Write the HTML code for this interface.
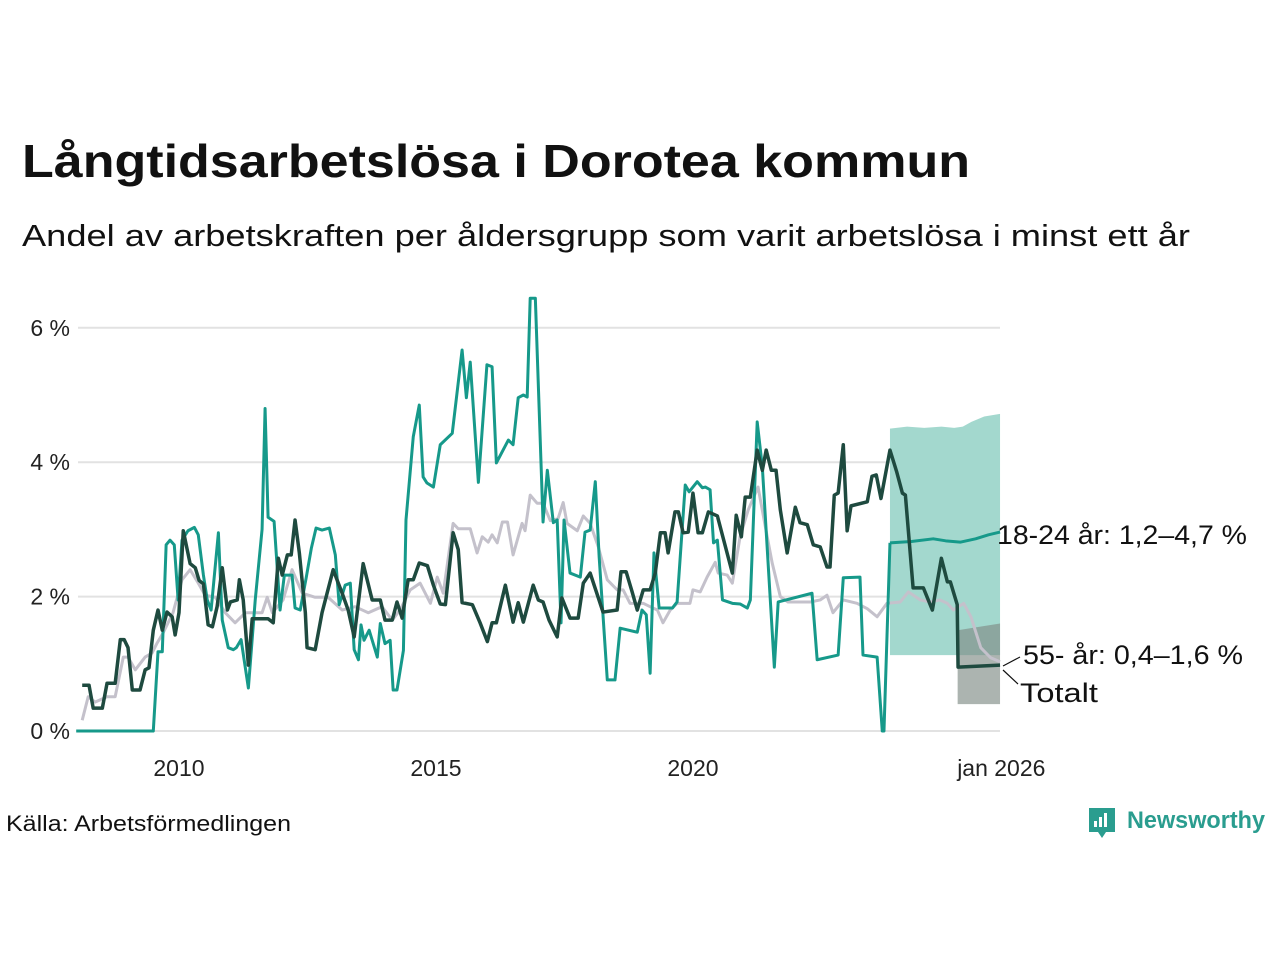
<!DOCTYPE html>
<html><head><meta charset="utf-8"><style>
html,body{margin:0;padding:0;background:#fff;}
svg{display:block;font-family:"Liberation Sans","DejaVu Sans",sans-serif;}
</style></head><body>
<svg id="chart" width="1280" height="960" viewBox="0 0 1280 960">
<text x="22" y="177" font-size="46" font-weight="bold" fill="#111" textLength="948" lengthAdjust="spacingAndGlyphs">Långtidsarbetslösa i Dorotea kommun</text>
<text x="22" y="246" font-size="31" fill="#111" textLength="1168" lengthAdjust="spacingAndGlyphs">Andel av arbetskraften per åldersgrupp som varit arbetslösa i minst ett år</text>
<g id="grid"></g><g id="bands"></g><g id="lines"></g><g id="labels"></g>
<text x="6" y="831" font-size="22" fill="#111" textLength="285" lengthAdjust="spacingAndGlyphs">Källa: Arbetsförmedlingen</text>
<g>
<path d="M1089 808 h26 v24 h-9 l-4 6 l-4 -6 h-9 z" fill="#2a9d8f"/>
<rect x="1094" y="821" width="3" height="6" fill="#fff"/><rect x="1099" y="817" width="3" height="10" fill="#fff"/><rect x="1104" y="813" width="3" height="14" fill="#fff"/>
<text x="1127" y="828" font-size="24" font-weight="bold" fill="#2a9d8f" textLength="138" lengthAdjust="spacingAndGlyphs">Newsworthy</text>
</g>
</svg>
<script>
// months since Jan 2008
const greenMonths=[0,18,19.1,20.1,21,21.9,22.9,23.8,24.7,26.1,27.6,28.5,29.7,30.6,31.5,33.2,34.1,35.5,36.7,37.4,38.5,40.2,41.8,43.4,44.1,44.8,46.2,47.6,48.6,50.4,51.1,52.3,53.7,54.9,56,57.4,59.1,60.5,61.4,62.8,64,64.9,65.9,66.5,67.2,68.4,70.3,71,72.1,73.3,74,74.9,76.4,77,78.7,80.1,81,81.9,83.4,85,87.8,90.1,91.1,92,93.9,95.9,97.1,98.1,100.9,102,103.2,104.4,105.3,106,107.2,109,110,111.4,112.3,113.2,113.9,115.3,117.7,118.8,120,121.2,122.1,124,125.8,127,131,132.1,133.1,134,134.9,136.1,139.2,140.3,142.2,143.1,145,146.2,146.9,148,148.8,149.7,150.9,153.2,155,156.7,157.4,159,160.2,163,163.9,171.8,173,177.9,179.1,183,183.7,187,188.2,188.6,190];
const greenValues=[0,0,1.18,1.18,2.77,2.84,2.77,1.95,2.84,2.98,3.03,2.92,2.32,1.95,1.8,2.95,1.65,1.24,1.21,1.24,1.36,0.64,1.95,3.0,4.8,3.18,3.12,1.8,2.32,2.32,1.83,1.8,2.28,2.72,3.02,2.99,3.02,2.62,1.88,2.17,2.2,1.21,1.06,1.58,1.35,1.5,1.1,1.6,1.3,1.35,0.61,0.61,1.2,3.14,4.38,4.85,3.78,3.69,3.63,4.26,4.43,5.67,4.96,5.49,3.7,5.45,5.42,3.99,4.33,4.26,4.96,5.0,4.97,6.44,6.44,3.11,3.88,3.1,3.14,1.61,3.14,2.35,2.29,2.96,2.99,3.71,2.59,0.76,0.76,1.53,1.47,1.8,1.73,0.86,2.65,1.83,1.83,1.92,3.66,3.56,3.71,3.62,3.63,3.59,2.8,2.84,1.95,1.9,1.89,1.83,1.95,4.6,3.93,0.95,1.92,2.05,1.06,1.13,2.28,2.29,1.13,1.1,0,0,2.8];
const greenFcMonths=[190,195,200.1,203,206.4,210,213,215.7];
const greenFcValues=[2.8,2.82,2.86,2.83,2.81,2.86,2.92,2.96];
const greenBandMonths=[190,194,198,202,205,207,209,212,215.7];
const greenBandLow=[1.13,1.13,1.13,1.13,1.13,1.13,1.13,1.13,1.13];
const greenBandHigh=[4.5,4.53,4.51,4.53,4.51,4.53,4.6,4.68,4.72];
const totalMonths=[1.4,3,3.97,6.1,7.2,9.1,10.3,11.2,12.1,13.1,14.9,16.1,17,18,19.1,20.1,21.2,22.4,23.1,24,25,26.6,27.8,28.7,29.7,30.8,31.8,32.9,34.1,35.3,36,37.6,38.1,39,40.2,41.1,44.8,46,47.2,48.1,49.3,50.2,51.1,52.1,53.5,53.9,55.8,57.4,60,62.1,63.5,64.9,67,69.1,71,72.1,73.8,74.9,76.1,77.5,78.7,80.1,82,83.4,85,86.2,88,89.2,90.1,92.5,94.3,96,97.1,98.1,100.2,102,103.2,104.4,106.7,107.9,109,110.4,112.3,113.4,115.3,117.2,118.4,120,123,126.3,127.2,128.4,129.8,131,132.4,134,135.2,136.4,137.5,138.2,139.8,140.6,141.7,142.9,144,145.2,146.2,147.6,149.7,153.2,154.1,155.3,156.2,157.4,159,160.2,161.1,162.3,163.4,164.4,166,167.9,169,170.7,172.1,173.7,175.3,176,177,177.9,179.1,180,180.9,184.7,185.8,186.8,187.9,190,191.6,192.9,193.6,195.4,197.8,199.9,202,203.4,204.1,205.7,205.9,215.7];
const totalValues=[0.68,0.68,0.34,0.34,0.71,0.71,1.36,1.36,1.24,0.61,0.61,0.91,0.94,1.5,1.8,1.5,1.77,1.7,1.43,1.76,2.98,2.49,2.43,2.24,2.19,1.58,1.55,1.85,2.43,1.8,1.92,1.95,2.25,1.95,0.98,1.67,1.67,1.61,2.57,2.32,2.62,2.62,3.14,2.65,1.76,1.24,1.21,1.76,2.4,2.05,1.8,1.4,2.49,1.95,1.95,1.65,1.65,1.92,1.68,2.25,2.25,2.5,2.46,2.17,1.89,1.88,2.95,2.7,1.91,1.88,1.61,1.33,1.61,1.61,2.17,1.62,1.91,1.62,2.17,1.95,1.92,1.65,1.4,1.98,1.68,1.68,2.2,2.35,1.77,1.8,2.37,2.37,2.07,1.8,2.1,2.1,2.35,2.95,2.95,2.65,3.26,3.26,2.95,2.96,3.54,2.95,2.95,3.26,3.2,2.35,3.21,2.89,3.48,3.48,4.18,3.88,4.18,3.88,3.88,3.29,2.65,3.33,3.1,3.07,2.77,2.74,2.44,2.44,3.51,3.54,4.26,2.98,3.35,3.41,3.79,3.81,3.46,4.18,3.85,3.54,3.51,2.13,2.13,1.8,2.57,2.22,2.22,1.88,0.95,0.98];
const olderMonths=[1.4,2.8,4.4,7.2,9.1,11,12.1,13.8,16.1,17.7,18.9,20.3,22.6,24.7,26.6,28.5,30.1,32.5,34.8,37.1,39.5,43.4,44.6,45.8,48.3,50.4,52.8,55.8,58.8,62.1,65.1,68.2,71.4,73.8,75.6,78,80.3,82.7,84.3,85.7,88,89.2,92,93.6,94.8,96.2,97.1,98.3,99.5,100.7,102,104.1,104.8,106,107.6,109,110.7,112.5,113.7,114.6,117,118.4,120,121.9,124,126.3,127.7,129.3,132.4,134,135.7,137,138.7,140.3,143.3,144,145.7,147.3,149.2,149.9,152,153.2,155,156.9,159.2,160.9,162.5,164.4,166.2,171.4,173.7,175.3,176.7,179.1,182.3,184.7,187,189.3,192.4,194.3,197.1,199.4,201.7,203.4,204.8,207.2,208.9,211.2,213.5,215.7];
const olderValues=[0.16,0.51,0.43,0.51,0.51,1.1,1.1,0.91,1.1,1.16,1.31,1.46,1.76,2.25,2.4,2.2,2.02,1.99,1.76,1.61,1.76,1.76,1.99,1.76,1.95,2.4,2.05,1.99,1.99,1.8,1.85,1.76,1.85,1.65,1.8,2.1,2.2,1.9,2.29,2.05,3.09,3.01,3.01,2.65,2.89,2.81,2.92,2.8,3.11,3.11,2.62,3.09,2.98,3.51,3.39,3.39,3.13,3.16,3.4,3.09,2.98,3.2,3.09,2.74,2.25,2.1,2.1,1.9,1.9,1.85,1.8,1.61,1.8,1.9,1.9,2.1,2.07,2.29,2.51,2.35,2.32,2.2,2.89,3.29,3.63,3.04,2.5,2.0,1.92,1.92,1.95,2.02,1.76,1.95,1.9,1.82,1.7,1.9,1.92,2.07,1.95,1.92,1.95,1.9,1.8,1.9,1.7,1.24,1.09,1.03];
const olderBandMonths=[205.8,215.7];
const olderBandLow=[0.4,0.4];
const olderBandHigh=[1.5,1.6];
const yTicks=[0,2,4,6];
const yTickLabels=["0 %","2 %","4 %","6 %"];
const xTickMonths=[24,84,144,216];
const xTickLabels=["2010","2015","2020","jan 2026"];

const NS="http://www.w3.org/2000/svg";
const X=m=>76.2+m*4.283;
const Y=v=>731-v*67.2;
function mk(tag,attrs,parent){const e=document.createElementNS(NS,tag);for(const k in attrs)e.setAttribute(k,attrs[k]);parent.appendChild(e);return e;}
const grid=document.getElementById('grid'),bands=document.getElementById('bands'),lines=document.getElementById('lines'),labels=document.getElementById('labels');
yTicks.forEach((t,i)=>{
 const l=mk('line',{x1:78,x2:1000,y1:Y(t),y2:Y(t),stroke:'#e2e2e2','stroke-width':2},grid);
 
 
 const tx=mk('text',{x:70,y:Y(t)+8,'font-size':23,'text-anchor':'end',fill:'#222'},grid);
 tx.textContent=yTickLabels[i];
 
 
});
xTickMonths.forEach((m,i)=>{
 const tx=mk('text',{x:X(m),y:776,'font-size':23,'text-anchor':'middle',fill:'#222'},grid);
 tx.textContent=xTickLabels[i];
 
 
});
function band(ms,lo,hi,fill,op,name){
 let d='M'+ms.map((m,i)=>X(m)+','+Y(hi[i])).join('L');
 for(let i=ms.length-1;i>=0;i--)d+='L'+X(ms[i])+','+Y(lo[i]);
 const p=mk('path',{d:d+'Z',fill:fill,'fill-opacity':op},bands);
 
 
}
band(greenBandMonths,greenBandLow,greenBandHigh,'#a3d8ce',1,'band-18-24');
band(olderBandMonths,olderBandLow,olderBandHigh,'#7f8c86',0.65,'band-55-plus');
function line(ms,vs,col,w,name){
 const p=mk('path',{d:'M'+ms.map((m,i)=>X(m)+','+Y(vs[i])).join('L'),fill:'none',stroke:col,'stroke-width':w,'stroke-linejoin':'round'},lines);
 
 
}
line(olderMonths,olderValues,'#c4c1cb',3,'line-55-plus');
line(greenMonths,greenValues,'#16998a',3,'line-18-24');
line(greenFcMonths,greenFcValues,'#16998a',3,'line-18-24-forecast');
line(totalMonths,totalValues,'#1e4a3f',3.5,'line-total');
const ann=[["18-24 år: 1,2–4,7 %",997,544,'label-18-24',250],["55- år: 0,4–1,6 %",1023,664,'label-55-plus',220],["Totalt",1020,702,'label-total',78]];
ann.forEach(a=>{
 const t=mk('text',{x:a[1],y:a[2],'font-size':27,fill:'#111',textLength:a[4],lengthAdjust:'spacingAndGlyphs'},labels);
 t.textContent=a[0];
 
 
});
const l1=mk('path',{d:'M1003,666 L1020,657 M1003,670 L1018,684',stroke:'#111','stroke-width':1.2,fill:'none'},labels);


</script>
</body></html>
